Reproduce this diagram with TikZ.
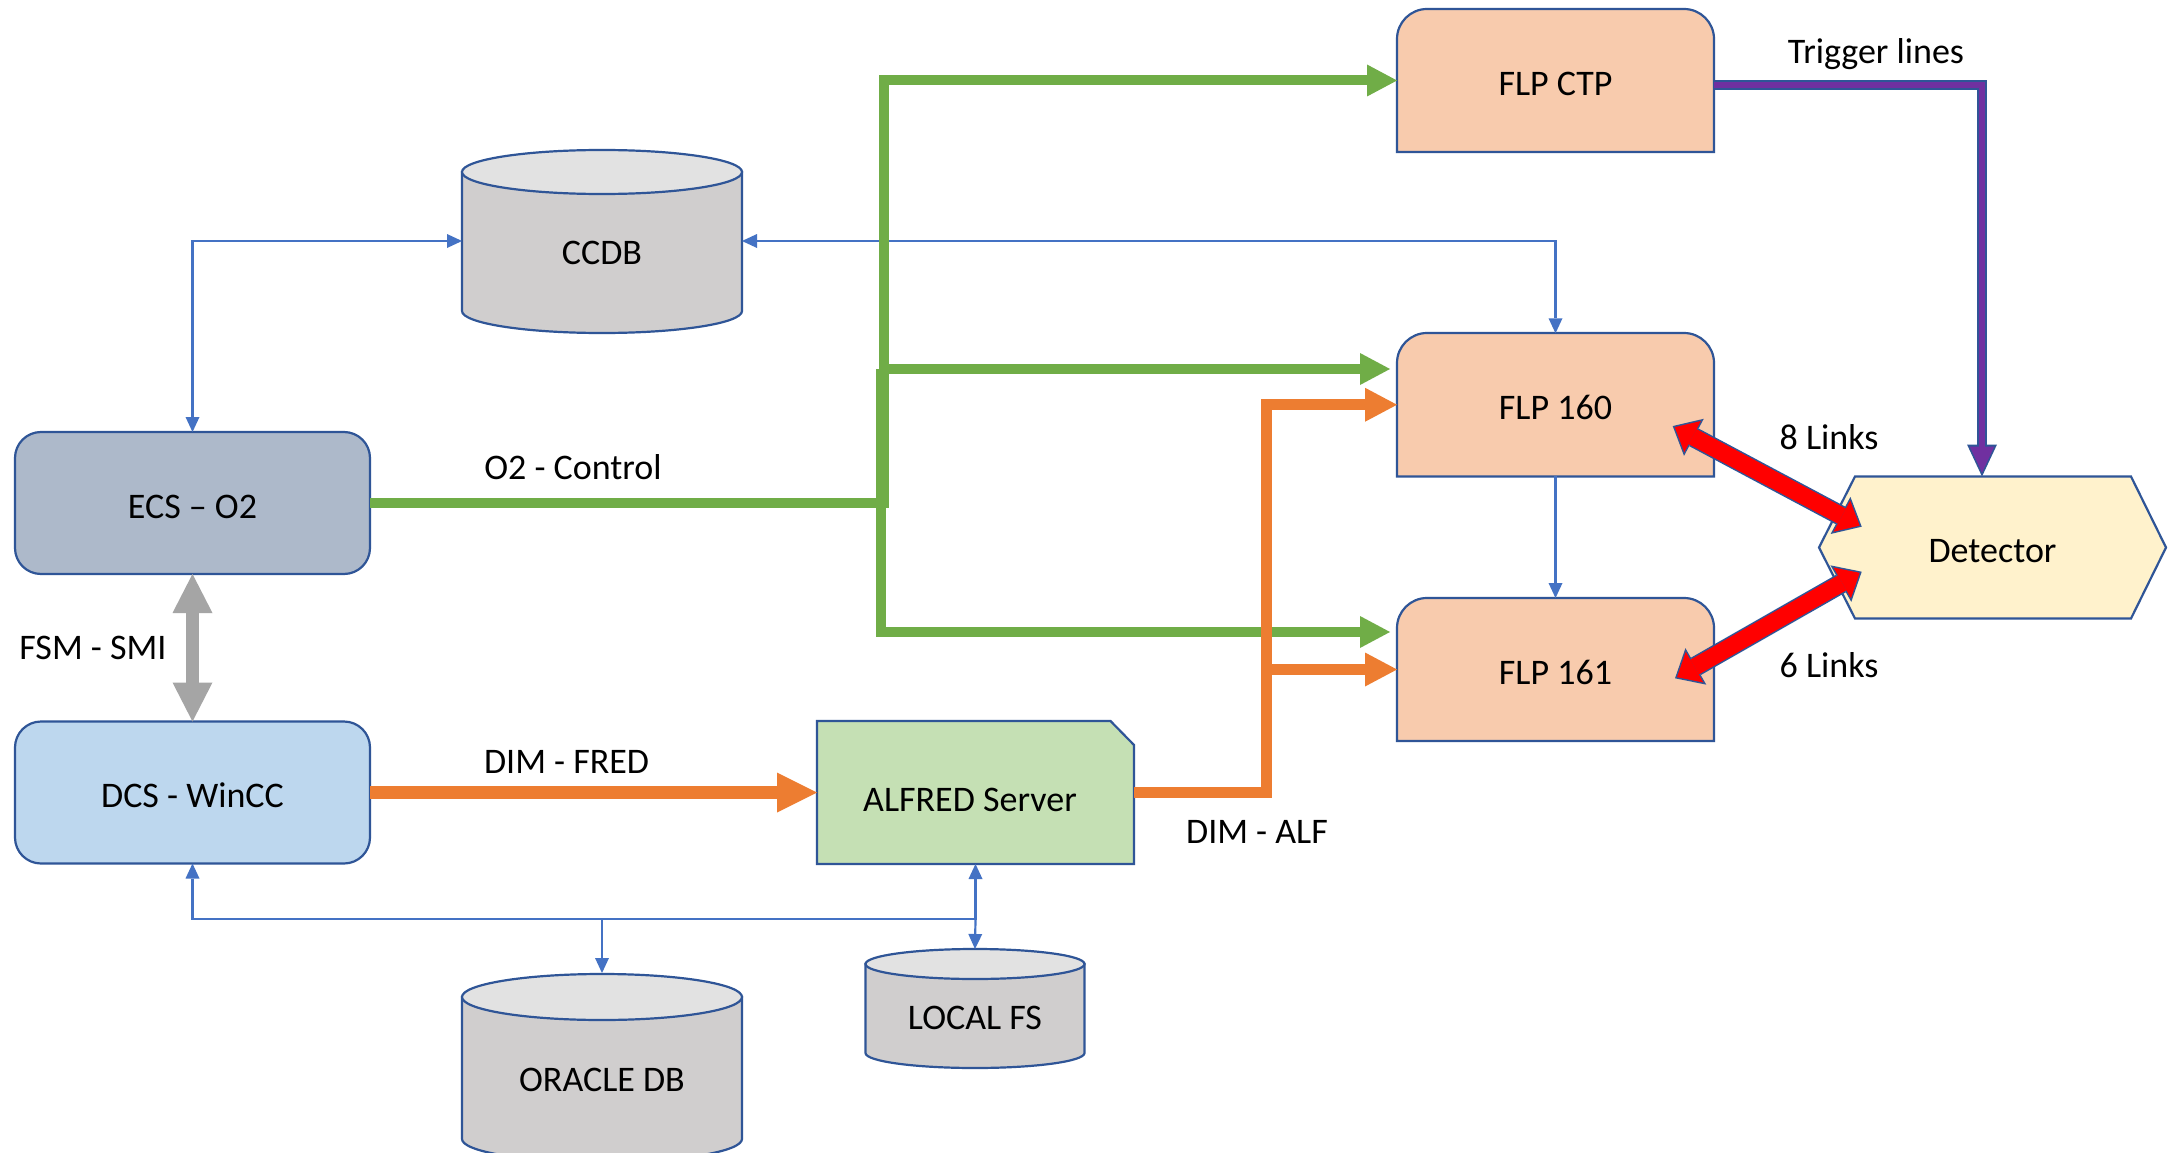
\documentclass[tikz,border=0pt]{standalone}
\usepackage{fontspec}
\setmainfont{Carlito}
\usetikzlibrary{arrows.meta,calc}
\definecolor{dblue}{HTML}{2F5597}
\definecolor{cblue}{HTML}{4472C4}
\definecolor{cgreen}{HTML}{70AD47}
\definecolor{corange}{HTML}{ED7D31}
\definecolor{cgray}{HTML}{A5A5A5}
\definecolor{cpurple}{HTML}{7030A0}
\definecolor{cred}{HTML}{FF0000}
\definecolor{ecsfill}{HTML}{ADB9CA}
\definecolor{dcsfill}{HTML}{BDD7EE}
\definecolor{flpfill}{HTML}{F8CBAD}
\definecolor{alffill}{HTML}{C5E0B4}
\definecolor{detfill}{HTML}{FFF2CC}
\definecolor{cylfill}{HTML}{D0CECE}
\definecolor{cyltopfill}{HTML}{E2E2E2}
\begin{document}
\begin{tikzpicture}[x=1pt,y=1pt,line join=miter,
  every node/.style={font=\fontsize{36pt}{43pt}\selectfont, inner sep=0pt, outer sep=0pt},
  lbl/.style={text height=23pt, text depth=0pt},
  boxtxt/.style={text height=30pt, text depth=0pt},
  shapeline/.style={draw=dblue, line width=2.2pt},
  rbox/.style={shapeline, rounded corners=26pt, minimum width=355pt, minimum height=142pt, boxtxt},
  flpbox/.style={minimum width=317pt, minimum height=143pt, boxtxt},
  bcon/.style={color=cblue, line width=2.2pt},
  bboth/.style={bcon, arrows={Triangle[length=15pt,width=14pt,line width=0pt]-Triangle[length=15pt,width=14pt,line width=0pt]}},
  bfwd/.style={bcon, arrows={-Triangle[length=15pt,width=14pt,line width=0pt]}},
  gcon/.style={color=cgreen, line width=10pt, arrows={-Triangle[length=30pt,width=32pt,line width=0pt]}},
  obig/.style={color=corange, line width=13pt, arrows={-Triangle[length=40pt,width=40pt,line width=0pt]}},
  ocon/.style={color=corange, line width=11pt, arrows={-Triangle[length=32pt,width=34pt,line width=0pt]}},
  graycon/.style={color=cgray, line width=12.5pt, arrows={Triangle[length=39pt,width=40pt,line width=0pt]-Triangle[length=39pt,width=40pt,line width=0pt]}},
  purpout/.style={color=dblue, line width=9.5pt, arrows={-Triangle[length=32pt,width=30pt,line width=0pt]}},
  purpin/.style={color=cpurple, line width=6.5pt, shorten >=3.8pt, arrows={-Triangle[length=26pt,width=24.4pt,line width=0pt]}},
  redout/.style={color=dblue, line width=20pt, arrows={Triangle[length=24pt,width=42pt,line width=0pt]-Triangle[length=24pt,width=42pt,line width=0pt]}},
  redin/.style={color=cred, line width=17pt, shorten <=2.3pt, shorten >=2.3pt, arrows={Triangle[length=20.2pt,width=35.4pt,line width=0pt]-Triangle[length=20.2pt,width=35.4pt,line width=0pt]}}
]
\useasboundingbox (0,0) rectangle (2180,-1153);
\fill[white] (0,0) rectangle (2180,-1153);

% ---- cylinders ----
\filldraw[fill=cylfill, shapeline] (462,-172) -- (462,-311) arc[start angle=180,end angle=360,x radius=140,y radius=22] -- (742,-172) -- cycle;
\filldraw[fill=cyltopfill, shapeline] (602,-172) ellipse[x radius=140, y radius=22];
\node[minimum width=280pt, minimum height=182pt] (ccdb) at (602,-241) {};
\node[lbl] (ccdbt) at (602,-253) {CCDB};

\filldraw[fill=cylfill, shapeline] (462,-997) -- (462,-1139) arc[start angle=180,end angle=360,x radius=140,y radius=23] -- (742,-997) -- cycle;
\filldraw[fill=cyltopfill, shapeline] (602,-997) ellipse[x radius=140, y radius=23];
\node[minimum width=280pt, minimum height=188pt] (oracle) at (602,-1067) {};
\node[lbl] (oraclet) at (602,-1079.5) {ORACLE DB};

\filldraw[fill=cylfill, shapeline] (865.5,-964) -- (865.5,-1053) arc[start angle=180,end angle=360,x radius=109.5,y radius=15] -- (1084.5,-964) -- cycle;
\filldraw[fill=cyltopfill, shapeline] (975,-964) ellipse[x radius=109.5, y radius=15];
\node[minimum width=219pt, minimum height=119pt] (localfs) at (975,-1008.5) {};
\node[lbl] (localfst) at (975,-1018) {LOCAL FS};

% ---- rounded boxes ----
\node[rbox, fill=ecsfill] (ecs) at (192.5,-503) {ECS – O2};
\node[rbox, fill=dcsfill] (dcs) at (192.5,-792.5) {DCS - WinCC};

% ---- FLP boxes (top corners rounded) ----
\filldraw[fill=flpfill, shapeline] (1397,-152) -- (1397,-39) arc[start angle=180,end angle=90,radius=30] -- (1684,-9) arc[start angle=90,end angle=0,radius=30] -- (1714,-152) -- cycle;
\node[flpbox] (ctp) at (1555.5,-80.5) {FLP CTP};
\filldraw[fill=flpfill, shapeline] (1397,-476.5) -- (1397,-363) arc[start angle=180,end angle=90,radius=30] -- (1684,-333) arc[start angle=90,end angle=0,radius=30] -- (1714,-476.5) -- cycle;
\node[flpbox] (flp160) at (1555.5,-404.75) {FLP 160};
\filldraw[fill=flpfill, shapeline] (1397,-741) -- (1397,-628) arc[start angle=180,end angle=90,radius=30] -- (1684,-598) arc[start angle=90,end angle=0,radius=30] -- (1714,-741) -- cycle;
\node[flpbox] (flp161) at (1555.5,-669.5) {FLP 161};

% ---- ALFRED (snipped corner) ----
\filldraw[fill=alffill, shapeline] (817,-721) -- (1110.5,-721) -- (1134,-745) -- (1134,-864) -- (817,-864) -- cycle;
\node[minimum width=317pt, minimum height=143pt] (alfred) at (975.5,-792.5) {};
\node[lbl] (alfredt) at (970,-800) {ALFRED Server};

% ---- Detector (hexagon) ----
\filldraw[fill=detfill, shapeline] (1855,-476.5) -- (2131,-476.5) -- (2166,-547.5) -- (2131,-618.5) -- (1855,-618.5) -- (1819,-547.5) -- cycle;
\node[minimum width=347pt, minimum height=142pt, boxtxt] (det) at (1992.5,-547.5) {Detector};

% ---- labels ----
\node[lbl] (lo2) at (573,-468) {O2 - Control};
\node[lbl] (lfsm) at (93,-648) {FSM - SMI};
\node[lbl] (lfred) at (566.6,-761.5) {DIM - FRED};
\node[lbl] (lalf) at (1257,-832) {DIM - ALF};
\node[lbl] (ltrig) at (1876,-52) {Trigger lines};
\node[lbl] (l8) at (1829,-438) {8 Links};
\node[lbl] (l6) at (1829,-666) {6 Links};

% ---- blue connectors ----
\draw[bboth] (ecs.north) |- (ccdb.west);
\draw[bboth] (ccdb.east) -| (flp160.north);
\draw[bfwd] (flp160.south) -- (flp161.north);
\coordinate (bj) at (975.5,-919);
\coordinate (bo) at (602,-919);
\draw[bboth] (dcs.south) |- (bj) -- (alfred.south);
\draw[bfwd] (bo) -- (oracle.north);
\draw[bfwd] (bj) -- (localfs.north);

% ---- gray FSM-SMI ----
\draw[graycon] (ecs.south) -- (dcs.north);

% ---- green O2 control ----
\coordinate (gA) at (883.7,-503);
\coordinate (gB) at (881,-369);
\coordinate (gC) at (881,-632);
\draw[gcon] (ecs.east) -- (gA) |- (ctp.west);
\draw[gcon, shorten >=7pt] (gB) -- (flp160.west |- gB);
\draw[gcon, shorten >=7pt] (gB) -- (gC) -- (flp161.west |- gC);

% ---- orange DIM ----
\draw[obig] (dcs.east) -- (alfred.west);
\coordinate (oA) at (1266,-792.5);
\coordinate (oB) at (1266,-669.5);
\draw[ocon] (alfred.east) -- (oA) |- (flp160.west);
\draw[ocon] (oB) -- (flp161.west);

% ---- purple trigger lines ----
\coordinate (pS) at ([yshift=-4.5pt]ctp.east);
\coordinate (pE) at ([xshift=-10.5pt]det.north);
\draw[purpout] (pS) -| (pE);
\draw[purpin] (pS) -| (pE);

% ---- red links ----
\coordinate (r1a) at ([shift={(-41.3pt,-21.3pt)}]flp160.east);
\coordinate (r1b) at ([shift={(42.7pt,20.8pt)}]det.west);
\coordinate (r2a) at ([shift={(-39pt,-8.8pt)}]flp161.east);
\coordinate (r2b) at ([shift={(42.7pt,-24.2pt)}]det.west);
\draw[redout] (r1a) -- (r1b);
\draw[redin] (r1a) -- (r1b);
\draw[redout] (r2a) -- (r2b);
\draw[redin] (r2a) -- (r2b);
\end{tikzpicture}
\end{document}
